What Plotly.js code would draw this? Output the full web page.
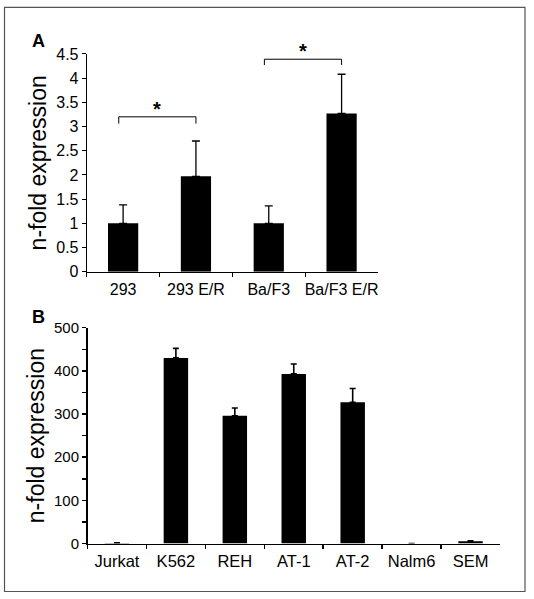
<!DOCTYPE html>
<html>
<head>
<meta charset="utf-8">
<script src="https://cdn.plot.ly/plotly-3.0.1.min.js"></script>
<style>
html,body{margin:0;padding:0;background:#fff;}
#chart{width:534px;height:599px;}
</style>
</head>
<body>
<div id="chart"></div>
<script>
// ---- Panel A data ----
const catsA = ['293', '293 E/R', 'Ba/F3', 'Ba/F3 E/R'];
const valsA = [1.0, 1.97, 1.0, 3.27];
const errA  = [0.38, 0.73, 0.36, 0.81];
const yTicksA = [0, 0.5, 1, 1.5, 2, 2.5, 3, 3.5, 4, 4.5];
// significance brackets: [left index, right index], bracket height, tick bottom
const sigPairsA = [[0, 1], [2, 3]];
const sigTopA   = [3.2, 4.39];
const sigFootA  = [3.06, 4.27];
const sigTextA  = ['*', '*'];

// ---- Panel B data ----
const catsB = ['Jurkat', 'K562', 'REH', 'AT-1', 'AT-2', 'Nalm6', 'SEM'];
const valsB = [1, 430, 296, 393, 327, 0, 5];
const errB  = [0.5, 22, 18, 23, 32, 0, 1];
const yTicksB = [0, 100, 200, 300, 400, 500];

const FONT = 'Liberation Sans, Arial, Helvetica, sans-serif';

const traces = [
  {
    type: 'bar', x: catsA, y: valsA, xaxis: 'x', yaxis: 'y',
    marker: {color: '#000', line: {width: 0}},
    error_y: {type: 'data', symmetric: false, array: errA, arrayminus: errA.map(() => 0),
              color: '#000', thickness: 1.3, width: 4},
    hoverinfo: 'x+y'
  },
  {
    type: 'bar', x: catsB, y: valsB, xaxis: 'x2', yaxis: 'y2',
    marker: {color: '#000', line: {width: 0}},
    error_y: {type: 'data', symmetric: false, array: errB, arrayminus: errB.map(() => 0),
              color: '#000', thickness: 1.6, width: 3},
    hoverinfo: 'x+y'
  }
];

const shapes = [];
const annotations = [];
const leftNudge = -0.06;
sigPairsA.forEach((p, i) => {
  const x0 = p[0] + leftNudge, x1 = p[1];
  const ln = {color: '#000', width: 1};
  shapes.push({type: 'line', xref: 'x', yref: 'y', x0: x0, x1: x1, y0: sigTopA[i], y1: sigTopA[i], line: ln});
  shapes.push({type: 'line', xref: 'x', yref: 'y', x0: x0, x1: x0, y0: sigTopA[i], y1: sigFootA[i], line: ln});
  shapes.push({type: 'line', xref: 'x', yref: 'y', x0: x1, x1: x1, y0: sigTopA[i], y1: sigFootA[i], line: ln});
  annotations.push({xref: 'x', yref: 'y', x: (x0 + x1) / 2, y: sigTopA[i], yshift: 8,
    text: '<b>' + sigTextA[i] + '</b>', showarrow: false, font: {size: 20, family: FONT, color: '#000'},
    xanchor: 'center', yanchor: 'middle'});
});

// frame
shapes.push({type: 'rect', xref: 'paper', yref: 'paper',
  x0: 4.5/534, x1: 525/534, y0: 1 - 591.5/599, y1: 1 - 7.3/599,
  line: {color: '#555', width: 1.2}, fillcolor: 'rgba(0,0,0,0)'});

// panel letters
annotations.push({xref: 'paper', yref: 'paper', x: 38/534, y: 1 - 41.3/599, text: '<b>A</b>',
  showarrow: false, font: {size: 18, family: FONT, color: '#000'}, xanchor: 'center', yanchor: 'middle'});
annotations.push({xref: 'paper', yref: 'paper', x: 38/534, y: 1 - 317/599, text: '<b>B</b>',
  showarrow: false, font: {size: 18, family: FONT, color: '#000'}, xanchor: 'center', yanchor: 'middle'});

const axBase = {
  showline: true, linecolor: '#000', showgrid: false, zeroline: false,
  ticks: 'outside', tickcolor: '#000', ticklen: 4, fixedrange: true
};

const layout = {
  width: 534, height: 599,
  margin: {l: 0, r: 0, t: 0, b: 0},
  paper_bgcolor: '#fff', plot_bgcolor: '#fff',
  showlegend: false,
  bargap: 0.585,
  font: {family: FONT, color: '#000'},
  xaxis: Object.assign({}, axBase, {
    domain: [86.7/534, 378/534], anchor: 'y', type: 'category',
    categoryorder: 'array', categoryarray: catsA,
    tickson: 'boundaries', linewidth: 1, tickwidth: 1, tickangle: 0,
    range: [-0.5, catsA.length - 0.5], tickfont: {size: 16}, ticklabelstandoff: 3
  }),
  yaxis: Object.assign({}, axBase, {
    domain: [1 - 271.7/599, 1 - 53.9/599], anchor: 'x',
    range: [0, 4.5], tickmode: 'array', tickvals: yTicksA, ticktext: yTicksA.map(String),
    linewidth: 1, tickwidth: 1, tickfont: {size: 16},
    title: {text: 'n-fold expression', font: {size: 23}, standoff: 3}
  }),
  xaxis2: Object.assign({}, axBase, {
    domain: [87.5/534, 500/534], anchor: 'y2', type: 'category',
    categoryorder: 'array', categoryarray: catsB,
    tickson: 'boundaries', linewidth: 1.5, tickwidth: 1.5, tickangle: 0,
    range: [-0.5, catsB.length - 0.5], tickfont: {size: 16.5}, ticklabelstandoff: 2
  }),
  yaxis2: Object.assign({}, axBase, {
    domain: [1 - 543.5/599, 1 - 327.7/599], anchor: 'x2',
    range: [0, 500], tickmode: 'array', tickvals: yTicksB, ticktext: yTicksB.map(String),
    linewidth: 1.5, tickwidth: 1.5, tickfont: {size: 15},
    minor: {dtick: 50, ticks: 'outside', ticklen: 4, tickcolor: '#000', tickwidth: 1.5, showgrid: false},
    title: {text: 'n-fold expression', font: {size: 23}, standoff: 3}
  }),
  shapes: shapes,
  annotations: annotations
};

Plotly.newPlot('chart', traces, layout, {displayModeBar: false, staticPlot: true});
</script>
</body>
</html>
